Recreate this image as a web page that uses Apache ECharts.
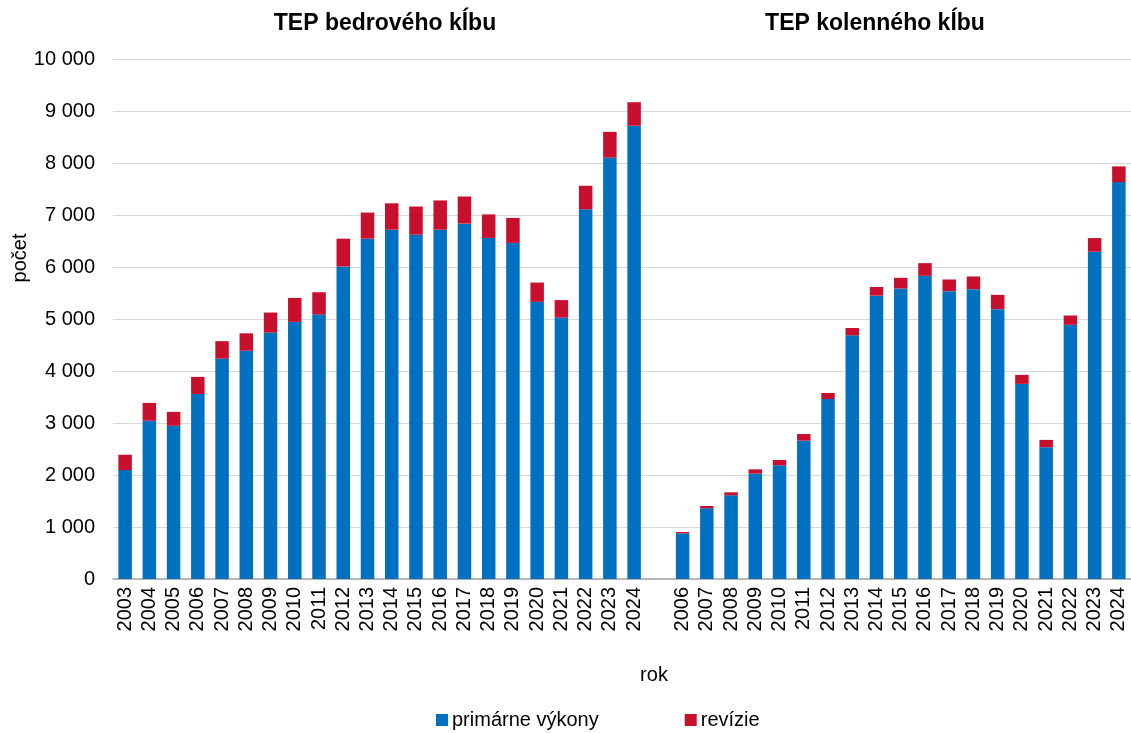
<!DOCTYPE html>
<html>
<head>
<meta charset="utf-8">
<script src="https://cdn.jsdelivr.net/npm/echarts@6/dist/echarts.min.js"></script>
<style>
  html, body { margin: 0; padding: 0; background: #fff; }
  #chart { width: 1131px; height: 733px; }
</style>
</head>
<body>
<div id="chart"></div>
<script>
// Hip replacements (TEP bedrového kĺbu), 2003–2024
const hipYears = ['2003','2004','2005','2006','2007','2008','2009','2010','2011','2012','2013',
                  '2014','2015','2016','2017','2018','2019','2020','2021','2022','2023','2024'];
const hipPrimary  = [2095, 3043, 2946, 3558, 4238, 4389, 4739, 4945, 5089, 6010, 6545,
                     6717, 6621, 6717, 6834, 6559, 6463, 5330, 5027, 7109, 8104, 8716];
const hipRevision = [295, 343, 268, 329, 336, 336, 385, 460, 426, 535, 502,
                     508, 542, 563, 522, 453, 481, 371, 337, 453, 495, 453];

// Knee replacements (TEP kolenného kĺbu), 2006–2024
const kneeYears = ['2006','2007','2008','2009','2010','2011','2012','2013','2014','2015',
                   '2016','2017','2018','2019','2020','2021','2022','2023','2024'];
const kneePrimary  = [878, 1359, 1609, 2026, 2186, 2660, 3462, 4686, 5449, 5587,
                      5831, 5536, 5574, 5189, 3752, 2534, 4888, 6293, 7633];
const kneeRevision = [26, 45, 58, 83, 102, 128, 115, 141, 166, 205,
                      243, 224, 244, 276, 174, 141, 179, 263, 302];

const yTicks = { min: 0, max: 10000, step: 1000 };

// One shared category axis: hip years, an empty slot, then knee years
const categories = hipYears.concat([''], kneeYears);
const primaryData  = hipPrimary.concat([null], kneePrimary);
const revisionData = hipRevision.concat([null], kneeRevision);

const FONT = '"Liberation Sans", Arial, sans-serif';
const BLUE = '#0070C0';
const RED = '#C8102E';

const chart = echarts.init(document.getElementById('chart'), null, { renderer: 'canvas' });

chart.setOption({
  animation: false,
  textStyle: { fontFamily: FONT },
  title: [
    { text: 'TEP bedrového kĺbu', left: 380, top: 7, textAlign: 'center',
      textStyle: { fontFamily: FONT, fontSize: 23, fontWeight: 'bold', color: '#000' } },
    { text: 'TEP kolenného kĺbu', left: 870, top: 7, textAlign: 'center',
      textStyle: { fontFamily: FONT, fontSize: 23, fontWeight: 'bold', color: '#000' } },
    { text: 'rok', left: 649, top: 660, textAlign: 'center',
      textStyle: { fontFamily: FONT, fontSize: 20, fontWeight: 'normal', color: '#000' } }
  ],
  graphic: [
    { type: 'text', x: 20, y: 258, rotation: Math.PI / 2,
      style: { text: 'počet', font: '20px ' + FONT, fill: '#000',
               textAlign: 'center', textVerticalAlign: 'middle' } }
  ],
  legend: {
    left: 431, top: 705,
    itemWidth: 12, itemHeight: 12, itemGap: 86,
    icon: 'rect',
    textStyle: { fontFamily: FONT, fontSize: 20, color: '#000', padding: [0, 0, 0, -1] },
    data: ['primárne výkony', 'revízie']
  },
  grid: { left: 113, top: 59, width: 1022, height: 520, containLabel: false },
  xAxis: {
    type: 'category',
    data: categories,
    axisLine: { lineStyle: { color: '#a6a6a6', width: 1.5 } },
    axisTick: { show: false },
    axisLabel: { rotate: 90, interval: 0, margin: 8, fontSize: 20, color: '#000', fontFamily: FONT }
  },
  yAxis: {
    type: 'value',
    min: yTicks.min, max: yTicks.max, interval: yTicks.step,
    axisLine: { show: false },
    axisTick: { show: false },
    splitLine: { lineStyle: { color: '#d9d9d9', width: 1 } },
    axisLabel: {
      margin: 18, fontSize: 20, color: '#000', fontFamily: FONT,
      formatter: v => String(v).replace(/\B(?=(\d{3})+(?!\d))/g, ' ')
    }
  },
  series: [
    { name: 'primárne výkony', type: 'bar', stack: 'total', data: primaryData,
      barWidth: 13.5, itemStyle: { color: BLUE } },
    { name: 'revízie', type: 'bar', stack: 'total', data: revisionData,
      barWidth: 13.5, itemStyle: { color: RED } }
  ]
});
</script>
</body>
</html>
